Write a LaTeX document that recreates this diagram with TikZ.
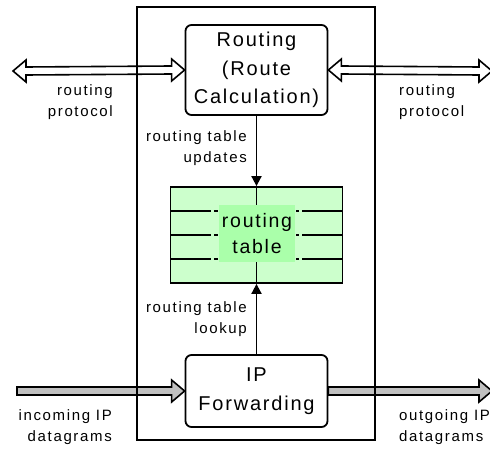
\documentclass[tikz,border=0pt]{standalone}
\usepackage{fontspec}
\setmainfont{Liberation Sans}
\newfontfamily\smallfam[LetterSpace=11]{Liberation Sans}
\newfontfamily\bigfam[LetterSpace=9]{Liberation Sans}
\usetikzlibrary{arrows.meta,calc}
\definecolor{tablegreen}{RGB}{204,255,204}
\definecolor{labelgreen}{RGB}{170,255,170}
\definecolor{arrowgray}{RGB}{192,192,192}
\tikzset{
  procbox/.style={draw, line width=1.8pt, rounded corners=6pt, inner sep=0pt,
    minimum width=142pt, align=center, font=\bigfam\fontsize{20}{28.5}\selectfont},
  smalltext/.style={inner sep=0pt, font=\smallfam\fontsize{15}{20.5}\selectfont},
  conn/.style={line width=1.8pt, -{Triangle[length=10pt,width=10pt]}},
  gridline/.style={line width=1.8pt},
  dblarrow/.style={draw, line width=1.6pt, fill=white, to path={
    let \p1=(\tikztostart), \p2=(\tikztotarget) in
    (\x1,\y1) -- (\x1+13pt,\y1+11pt) -- (\x1+13pt,\y1+4pt) -- (\x2-13pt,\y2+4pt)
    -- (\x2-13pt,\y2+11pt) -- (\x2,\y2) -- (\x2-13pt,\y2-11pt) -- (\x2-13pt,\y2-4pt)
    -- (\x1+13pt,\y1-4pt) -- (\x1+13pt,\y1-11pt) -- cycle}},
  grayarrow/.style={draw, line width=1.6pt, fill=arrowgray, to path={
    let \p1=(\tikztostart), \p2=(\tikztotarget) in
    (\x1,\y1-4pt) -- (\x2-13pt,\y2-4pt) -- (\x2-13pt,\y2-11pt) -- (\x2,\y2)
    -- (\x2-13pt,\y2+11pt) -- (\x2-13pt,\y2+4pt) -- (\x1,\y1+4pt) -- cycle}}
}
\begin{document}
\begin{tikzpicture}[x=1pt,y=-1pt]
\useasboundingbox (0,0) rectangle (490,449);

% routing table
\node[draw, line width=1.8pt, fill=tablegreen, minimum width=172pt, minimum height=96pt, inner sep=0pt] (tbl) at (256.5,235) {};
\foreach \yy in {211,235,259} {
  \draw[gridline] (171,\yy) -- (211,\yy);
  \draw[gridline] (214,\yy) -- (218,\yy);
  \draw[gridline] (296,\yy) -- (299,\yy);
  \draw[gridline] (302,\yy) -- (343,\yy);
}
\draw[gridline] (tbl.north) -- (tbl.south);
\node[fill=labelgreen, minimum width=76pt, minimum height=57pt, inner sep=0pt, align=center,
  font=\bigfam\fontsize{19.5}{26}\selectfont] (lbl) at (257,233.5) {routing\\table};

% processes
\node[procbox, minimum height=90pt] (rout) at (256.5,70) {Routing\\(Route\\Calculation)};
\node[procbox, minimum height=72pt] (ipf) at (256.5,391) {IP\\Forwarding};

% internal connectors
\draw[conn] (rout.south) -- (tbl.north);
\draw[conn] (ipf.north) -- (tbl.south);

% external arrows
\coordinate (lin) at (13,71);
\coordinate (rin) at (492,71);
\coordinate (gin) at (17,391);
\coordinate (gout) at (492,391);
\draw[dblarrow] (lin) to (rout.west);
\draw[dblarrow] (rout.east) to (rin);
\draw[grayarrow] (gin) to (ipf.west);
\draw[grayarrow] (ipf.east) to (gout);

% router boundary
\node[draw, line width=1.8pt, minimum width=238pt, minimum height=433pt, inner sep=0pt] (router) at (256,223.5) {};

% labels
\node[smalltext, anchor=east, align=right] (rpl) at (113,102) {routing\\protocol};
\node[smalltext, anchor=west, align=left] (rpr) at (399,102) {routing\\protocol};
\node[smalltext, anchor=east, align=right] (upd) at (247,148) {routing table\\updates};
\node[smalltext, anchor=east, align=right] (lku) at (247,319) {routing table\\lookup};
\node[smalltext, anchor=east, align=right] (inc) at (112,427) {incoming IP\\datagrams};
\node[smalltext, anchor=west, align=left] (outg) at (399,427) {outgoing IP\\datagrams};
\end{tikzpicture}
\end{document}
